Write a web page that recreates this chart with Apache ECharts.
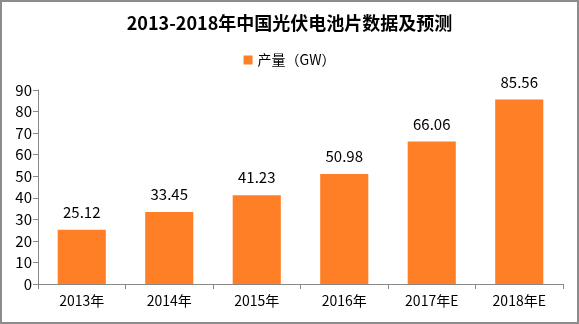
<!DOCTYPE html>
<html><head><meta charset="utf-8">
<script src="https://cdn.jsdelivr.net/npm/echarts@6/dist/echarts.min.js"></script>
<style>html,body{margin:0;padding:0;background:#fff}#c{width:579px;height:324px;box-sizing:border-box;border:2px solid #8c8c8c}</style>
</head><body><div id="c"></div>
<script>
var categories = ['2013年','2014年','2015年','2016年','2017年E','2018年E'];
var values = [25.12, 33.45, 41.23, 50.98, 66.06, 85.56];
var seriesName = '产量（GW）';
var titleText = '2013-2018年中国光伏电池片数据及预测';
var chart = echarts.init(document.getElementById('c'));
var font = '"Noto Sans CJK SC", "Microsoft YaHei", sans-serif';
chart.setOption({
  animation:false,
  textStyle:{fontFamily:font},
  title:{text:titleText,left:'center',top:7,textStyle:{fontFamily:font,fontSize:18,fontWeight:'bold',color:'#000'}},
  legend:{data:[seriesName],top:46,left:'center',itemWidth:9,itemHeight:9,icon:'rect',itemGap:6,textStyle:{fontFamily:font,fontSize:14,color:'#000'}},
  grid:{left:36,right:14,top:88,bottom:38},
  xAxis:{type:'category',data:categories,axisLine:{lineStyle:{color:'#888'}},axisTick:{show:true,lineStyle:{color:'#888'}},
    axisLabel:{color:'#000',fontSize:14,margin:10,fontFamily:font}},
  yAxis:{type:'value',min:0,max:90,interval:10,splitLine:{show:false},axisLine:{show:true,lineStyle:{color:'#888'}},axisTick:{show:true,lineStyle:{color:'#888'}},
    axisLabel:{color:'#000',fontSize:15,margin:6,fontFamily:font}},
  series:[{name:seriesName,type:'bar',data:values,barWidth:'55%',itemStyle:{color:'#FF7F27'},
    label:{show:true,position:'top',distance:10,color:'#000',fontSize:15,fontFamily:font}}]
});
</script></body></html>
